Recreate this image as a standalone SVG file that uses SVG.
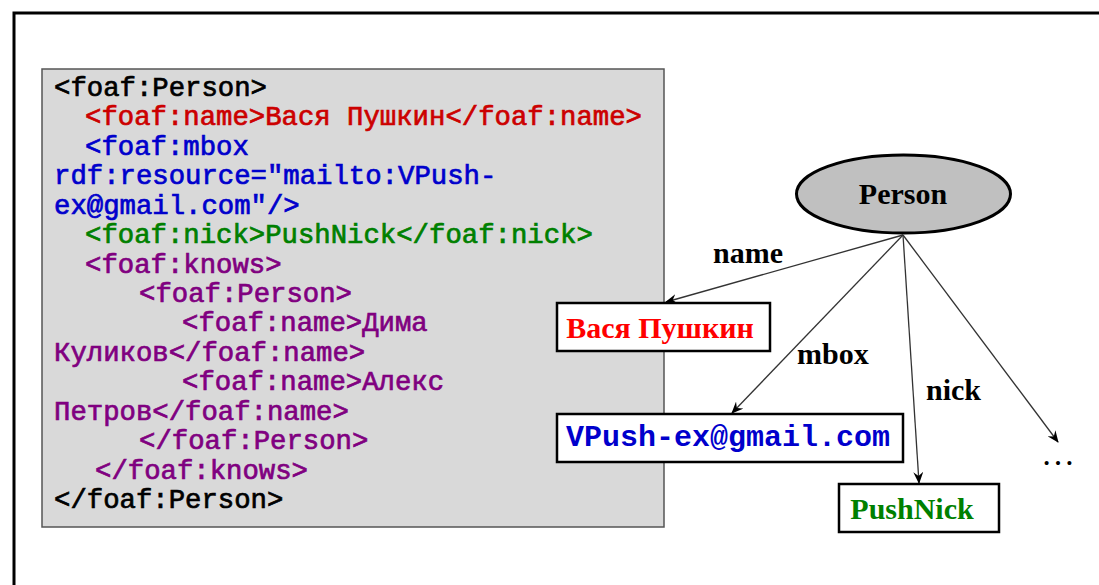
<svg xmlns="http://www.w3.org/2000/svg" width="1099" height="585" viewBox="0 0 1099 585">
<style>
.code{font-family:"Liberation Mono","Courier New",monospace;font-size:27.3px;stroke-width:0.7px}
.k{fill:#000;stroke:#000}.r{fill:#cc0000;stroke:#cc0000}.b{fill:#0000cc;stroke:#0000cc}.g{fill:#008000;stroke:#008000}.p{fill:#800080;stroke:#800080}
.lbl{font-family:"Liberation Serif","Times New Roman",serif;font-weight:bold;font-size:30px;fill:#000}
.box{fill:#fff;stroke:#000;stroke-width:2.5}
.edge{stroke:#333;stroke-width:1.3;fill:none;marker-end:url(#arr)}
</style>
<defs>
<marker id="arr" viewBox="0 0 12 10" refX="11" refY="5" markerWidth="12" markerHeight="10" markerUnits="userSpaceOnUse" orient="auto">
<path d="M0,0 L12,5 L0,10 L4,5 z" fill="#000"/>
</marker>
</defs>
<rect x="14" y="13" width="1110" height="600" fill="none" stroke="#000" stroke-width="3"/>
<g id="code">
<rect x="42" y="69" width="622" height="458" fill="#d9d9d9" stroke="#555" stroke-width="1.5"/>
<text class="code k" x="54" y="96">&lt;foaf:Person&gt;</text>
<text class="code r" x="85" y="125.4">&lt;foaf:name&gt;Вася Пушкин&lt;/foaf:name&gt;</text>
<text class="code b" x="85" y="154.9">&lt;foaf:mbox</text>
<text class="code b" x="54" y="184.3">rdf:resource="mailto:VPush-</text>
<text class="code b" x="54" y="213.7">ex@gmail.com"/&gt;</text>
<text class="code g" x="85" y="243.2">&lt;foaf:nick&gt;PushNick&lt;/foaf:nick&gt;</text>
<text class="code p" x="85" y="272.6">&lt;foaf:knows&gt;</text>
<text class="code p" x="139" y="302">&lt;foaf:Person&gt;</text>
<text class="code p" x="182" y="331.4">&lt;foaf:name&gt;Дима</text>
<text class="code p" x="54" y="360.9">Куликов&lt;/foaf:name&gt;</text>
<text class="code p" x="182" y="390.3">&lt;foaf:name&gt;Алекс</text>
<text class="code p" x="54" y="419.7">Петров&lt;/foaf:name&gt;</text>
<text class="code p" x="139" y="449.2">&lt;/foaf:Person&gt;</text>
<text class="code p" x="95" y="478.6">&lt;/foaf:knows&gt;</text>
<text class="code k" x="54" y="508">&lt;/foaf:Person&gt;</text>
</g>
<g id="connectors">
<line class="edge" x1="903" y1="235" x2="666" y2="302"/>
<line class="edge" x1="903" y1="235" x2="732" y2="413"/>
<line class="edge" x1="903" y1="235" x2="919" y2="483"/>
<line class="edge" x1="903" y1="235" x2="1058" y2="442"/>
<text class="lbl" x="713" y="263">name</text>
<text class="lbl" x="797" y="364">mbox</text>
<text class="lbl" x="926" y="400">nick</text>
</g>
<g id="person">
<ellipse cx="903.5" cy="194" rx="107" ry="39" fill="#c0c0c0" stroke="#000" stroke-width="3"/>
<text class="lbl" x="903" y="204" text-anchor="middle">Person</text>
</g>
<g id="name">
<rect class="box" x="557" y="303" width="213" height="48"/>
<text x="660" y="338" text-anchor="middle" style="font-family:'Liberation Serif','Times New Roman',serif;font-weight:bold;font-size:30px;fill:#ff0000">Вася Пушкин</text>
</g>
<g id="mbox">
<rect class="box" x="557" y="414" width="346" height="48"/>
<text x="566" y="446" style="font-family:'Liberation Mono','Courier New',monospace;font-weight:bold;font-size:30px;fill:#0000cc">VPush-ex@gmail.com</text>
</g>
<g id="nick">
<rect class="box" x="839" y="484" width="160" height="48"/>
<text x="912" y="519" text-anchor="middle" style="font-family:'Liberation Serif','Times New Roman',serif;font-weight:bold;font-size:30px;fill:#008000">PushNick</text>
</g>
<g id="more">
<text x="1058" y="465" text-anchor="middle" style="font-family:'Liberation Serif','Times New Roman',serif;font-size:34px;fill:#000">…</text>
</g>
</svg>
